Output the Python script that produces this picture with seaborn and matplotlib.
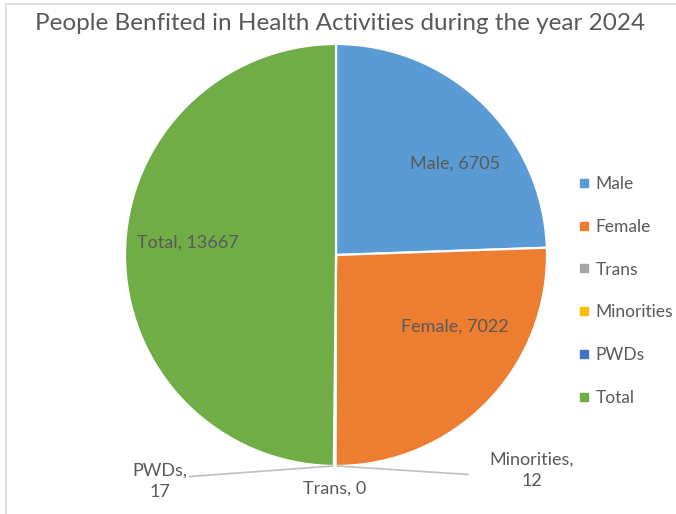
import matplotlib
matplotlib.use("Agg")
import matplotlib.pyplot as plt
import seaborn as sns
from matplotlib.lines import Line2D
from matplotlib.patches import Rectangle

sns.set_theme(style="white")
plt.rcParams['font.family'] = ['Lato', 'DejaVu Sans']

# data
categories = ["Male", "Female", "Trans", "Minorities", "PWDs", "Total"]
values = [6705, 7022, 0, 12, 17, 13667]
colors = ["#5B9BD5", "#ED7D31", "#A5A5A5", "#FFC000", "#4472C4", "#70AD47"]
title = "People Benfited in Health Activities during the year 2024"

txt_color = "#595959"

fig = plt.figure(figsize=(6.76, 5.14), dpi=100)
fig.patch.set_facecolor("white")

# chart area border (excel style)
fig.patches.append(Rectangle((6 / 676, -0.01), 1.0, 1 - 4 / 514 + 0.01, transform=fig.transFigure,
                             fill=False, edgecolor="#D9D9D9", linewidth=1.2))

ax = fig.add_axes([125 / 676, 48 / 514, 422 / 676, 422 / 514])
wedges, _ = ax.pie(values, colors=colors, startangle=90, counterclock=False,
                   wedgeprops=dict(edgecolor="white", linewidth=1.6))
ax.set_xlim(-1, 1)
ax.set_ylim(-1, 1)
ax.set_aspect("equal")
ax.axis("off")

# label positions (in pie radius units)
label_pos = {
    "Male": (0.564, 0.431),
    "Female": (0.564, -0.341),
    "Total": (-0.701, 0.057),
    "Trans": (-0.005, -1.109),
    "Minorities": (0.929, -1.019),
    "PWDs": (-0.834, -1.071),
}
for cat, val in zip(categories, values):
    x, y = label_pos[cat]
    if cat in ("Minorities", "PWDs"):
        s = f"{cat},\n{val}"
    else:
        s = f"{cat}, {val}"
    ax.text(x, y, s, ha="center", va="center", fontsize=13, color=txt_color,
            clip_on=False, linespacing=1.4)

# leader lines for the small slices
ax.add_line(Line2D([-0.694, -0.014], [-1.05, -1.0], color="#BFBFBF", lw=1.2, clip_on=False))
ax.add_line(Line2D([0.005, 0.626], [-1.0, -1.04], color="#BFBFBF", lw=1.2, clip_on=False))

fig.text(340 / 676, 1 - 23 / 514, title, ha="center", va="center", fontsize=17.5, color=txt_color)

handles = [Line2D([0], [0], marker="s", linestyle="none", markersize=5.5,
                  markerfacecolor=c, markeredgecolor=c) for c in colors]
leg = fig.legend(handles, categories, loc="center left", bbox_to_anchor=(579 / 676, 1 - 291 / 514),
                 frameon=False, fontsize=12.5, labelspacing=1.55, handlelength=0.6,
                 handletextpad=0.35, borderpad=0, borderaxespad=0)
for t in leg.get_texts():
    t.set_color(txt_color)

fig.savefig("out.png", dpi=100, facecolor="white")
